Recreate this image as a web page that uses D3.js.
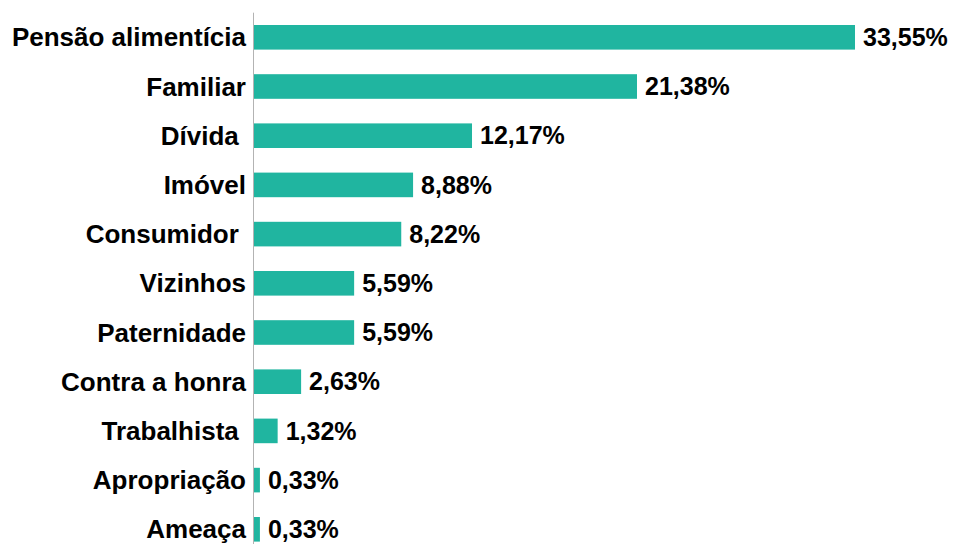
<!DOCTYPE html>
<html><head><meta charset="utf-8">
<script src="https://cdn.jsdelivr.net/npm/d3@7"></script>
<style>body{margin:0;background:#fff}svg{display:block}text{white-space:pre}</style>
</head><body>
<svg id="c" width="953" height="544"></svg>
<script>
const categories = ["Pensão alimentícia","Familiar","Dívida ","Imóvel","Consumidor ","Vizinhos","Paternidade","Contra a honra","Trabalhista ","Apropriação","Ameaça"];
const values = [33.55,21.38,12.17,8.88,8.22,5.59,5.59,2.63,1.32,0.33,0.33];
const valueLabels = ["33,55%","21,38%","12,17%","8,88%","8,22%","5,59%","5,59%","2,63%","1,32%","0,33%","0,33%"];

const svg = d3.select("#c");
const x0 = 254;
const x = d3.scaleLinear().domain([0, 33.55]).range([x0, 855]);
const y = d3.scaleBand().domain(categories).range([12.7, 12.7 + 49.2*11]).paddingInner(0.5).paddingOuter(0.25);

svg.selectAll("rect.bar").data(values).join("rect")
  .attr("class","bar")
  .attr("x", x0)
  .attr("y", (d,i)=>y(categories[i]))
  .attr("width", d=>x(d)-x0)
  .attr("height", y.bandwidth())
  .attr("fill", "#20b5a0");

svg.append("line").attr("x1",x0-0.5).attr("x2",x0-0.5).attr("y1",12.7).attr("y2",560)
  .attr("stroke","#b3b3b3").attr("stroke-width",1);

svg.selectAll("text.cat").data(categories).join("text")
  .attr("class","cat")
  .attr("x", 246)
  .attr("y", d=>y(d)+y.bandwidth()/2)
  .attr("dy","0.35em")
  .attr("text-anchor","end")
  .attr("font-family","Liberation Sans, Arial, sans-serif")
  .attr("font-weight","bold")
  .attr("font-size","26px")
  .attr("fill","#000")
  .text(d=>d);

svg.selectAll("text.val").data(values).join("text")
  .attr("class","val")
  .attr("x", d=>x(d)+8)
  .attr("y", (d,i)=>y(categories[i])+y.bandwidth()/2)
  .attr("dy","0.35em")
  .attr("font-family","Liberation Sans, Arial, sans-serif")
  .attr("font-weight","bold")
  .attr("font-size","25px")
  .attr("fill","#000")
  .text((d,i)=>valueLabels[i]);
</script>
</body></html>
